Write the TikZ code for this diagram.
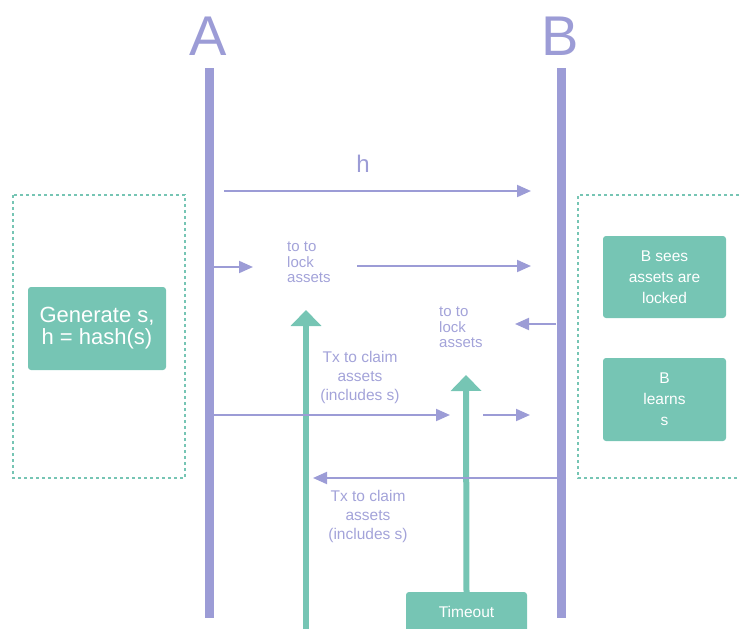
\documentclass[tikz,border=0pt]{standalone}
\usepackage{fontspec}
\setmainfont{Liberation Sans}
\usetikzlibrary{arrows.meta}
\definecolor{lav}{HTML}{9C9CD6}
\definecolor{lavtext}{HTML}{A3A3D9}
\definecolor{grn}{HTML}{76C5B4}
\begin{document}
\begin{tikzpicture}[x=1pt,y=-1pt,
  lifeline/.style={lav, line width=9pt},
  msg/.style={lav, line width=2pt, -{Triangle[length=14pt,width=12pt]}},
  garrow/.style={grn, line width=6pt, -{Triangle[length=16pt,width=30pt]}},
  gbox/.style={fill=grn, rounded corners=3pt, text=white, align=center, inner sep=0pt},
  dbox/.style={grn, line width=1.3pt, dash pattern=on 3pt off 3pt},
  lbl/.style={text=lavtext, font=\fontsize{15}{15.5}\selectfont, align=left, inner sep=0pt},
  clbl/.style={text=lavtext, font=\fontsize{15.5}{19}\selectfont, align=center, inner sep=0pt},
  party/.style={text=lav, font=\fontsize{56}{60}\selectfont, inner sep=0pt}
]
\clip (0,0) rectangle (740,629);
% parties and lifelines
\node[party] (A) at (208,36) {A};
\node[party] (B) at (560,36) {B};
\coordinate (Atop) at (209,68);
\coordinate (Abot) at (209,618);
\coordinate (Btop) at (561,68);
\coordinate (Bbot) at (561,618);
\draw[lifeline] (Atop) -- (Abot);
\draw[lifeline] (Btop) -- (Bbot);
% dashed boxes
\draw[dbox] (13,195) rectangle (185,478);
\draw[dbox] (745,195) -- (578,195) -- (578,478) -- (745,478);
% green boxes
\node[gbox, minimum width=138pt, minimum height=83pt, font=\fontsize{22}{22}\selectfont] (gen) at (97,328.5) {Generate s,\\h = hash(s)};
\node[gbox, minimum width=123pt, minimum height=82pt, font=\fontsize{15.5}{21}\selectfont] (sees) at (664.5,277) {B sees\\assets are\\locked};
\node[gbox, minimum width=123pt, minimum height=83pt, font=\fontsize{15.5}{21}\selectfont] (learns) at (664.5,399.5) {B\\learns\\s};
\node[gbox, minimum width=121pt, minimum height=40pt, font=\fontsize{15.5}{16}\selectfont] (timeout) at (466.5,612) {Timeout};
% green arrows
\coordinate (g1bot) at (306,640);
\coordinate (g1top) at (306,310);
\coordinate (g2top) at (466,375);
\draw[garrow] (g1bot) -- (g1top);
\draw[garrow] (timeout.north) -- (g2top);
% labels
\node[text=lav, font=\fontsize{24}{26}\selectfont, inner sep=0pt] (hlbl) at (363,164) {h};
\node[lbl, anchor=north west] (lock1) at (287,242) {to to\\lock\\assets};
\node[lbl, anchor=north west] (lock2) at (439,307) {to to\\lock\\assets};
\node[clbl] (claim1) at (360,377) {Tx to claim\\assets\\(includes s)};
\node[clbl] (claim2) at (368,516) {Tx to claim\\assets\\(includes s)};
% messages
\coordinate (h1) at (224,191); \coordinate (h2) at (531,191);
\draw[msg] (h1) -- (h2);
\coordinate (m1a) at (213,267); \coordinate (m1b) at (253,267);
\draw[msg] (m1a) -- (m1b);
\coordinate (m2a) at (357,266); \coordinate (m2b) at (531,266);
\draw[msg] (m2a) -- (m2b);
\coordinate (m3a) at (556,324); \coordinate (m3b) at (515,324);
\draw[msg] (m3a) -- (m3b);
\coordinate (m4a) at (213,415); \coordinate (m4b) at (450,415);
\draw[msg] (m4a) -- (m4b);
\coordinate (m5a) at (483,415); \coordinate (m5b) at (530,415);
\draw[msg] (m5a) -- (m5b);
\coordinate (m6a) at (566,478); \coordinate (m6b) at (313,478);
\draw[msg] (m6a) -- (m6b);
\end{tikzpicture}
\end{document}
